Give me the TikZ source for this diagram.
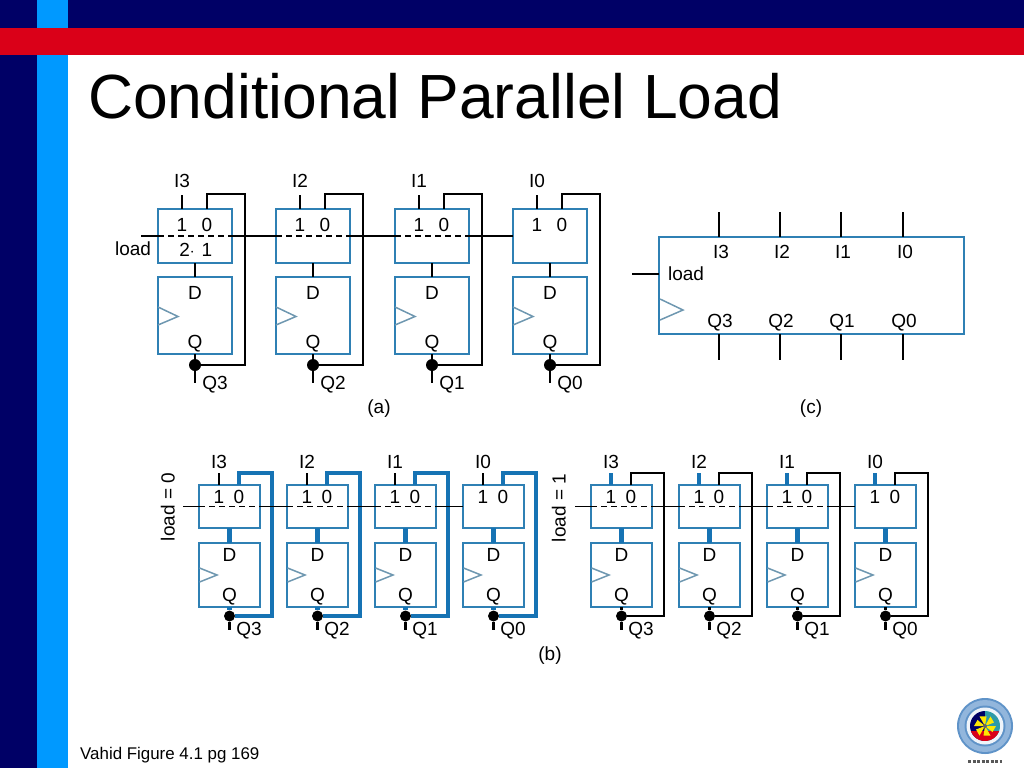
\documentclass[tikz,border=0pt]{standalone}
\usepackage{fontspec}
\setmainfont{Liberation Sans}
\definecolor{slidenavy}{HTML}{000066}
\definecolor{slidesky}{HTML}{0099FF}
\definecolor{slidered}{HTML}{DA0018}
\definecolor{boxblue}{HTML}{2F80B4}
\definecolor{wireblue}{HTML}{1673B4}
\definecolor{clockgrey}{HTML}{6E97B0}
\definecolor{ringblue}{HTML}{5F93C8}
\definecolor{ringpale}{HTML}{92B6DC}
\definecolor{sealteal}{HTML}{2E9AA8}
\tikzset{
  box/.style={draw=boxblue,line width=2.2pt,inner sep=0,outer sep=0},
  lab/.style={inner sep=0,text height=13,text depth=0,font=\fontsize{19}{20}\selectfont},
  wire/.style={line width=2.4pt,black},
  bluewire/.style={line width=4.4pt,wireblue},
  loadwire/.style={line width=1.7pt,black},
  loaddash/.style={loadwire,dash pattern=on 6pt off 4pt},
  clock/.style={line width=1.5pt,clockgrey},
  dot/.style={circle,fill=black,inner sep=0}
}
\begin{document}
\begin{tikzpicture}[x=1pt,y=-1pt]
  \useasboundingbox (0,0) rectangle (1024,768);
  % slide background
  \fill[slidenavy] (0,0) rectangle (1024,28);
  \fill[slidenavy] (0,28) rectangle (37,768);
  \fill[slidesky] (37,0) rectangle (68,768);
  \fill[slidered] (0,28) rectangle (1024,55);
  \node[inner sep=0,anchor=base west,font=\fontsize{62.4}{66}\selectfont] (title) at (88,118.5) {Conditional Parallel Load};
  \node[inner sep=0,anchor=base west,font=\fontsize{16.9}{19}\selectfont] (source) at (80,759) {Vahid Figure 4.1 pg 169};
  % part (a)
  \foreach \x/\n in {195/3,313/2,432/1,550/0} {
    \node[box,minimum width=74,minimum height=54] (muxa\n) at (\x,236) {};
    \node[box,minimum width=74,minimum height=77] (ffa\n) at (\x,315.5) {};
    \node[lab] (ina\n) at (\x-13,181) {I\n};
    \node[lab] (onea\n) at (\x-13,225) {1};
    \node[lab] (zeroa\n) at (\x+12,225) {0};
    \node[lab] (da\n) at (\x,293) {D};
    \node[lab] (qa\n) at (\x,342) {Q};
    \node[lab] (outa\n) at (\x+20,383) {Q\n};
    \node[dot,minimum size=12] (dota\n) at (\x,365) {};
    \coordinate (topa\n) at (\x-13,195);
    \coordinate (sela\n) at (\x-13,209);
    \coordinate (fba\n) at (\x+50,194);
    \coordinate (backa\n) at (\x+12,209);
    \coordinate (enda\n) at (\x,383);
    \draw[wire] (topa\n) -- (sela\n);
    \draw[wire] (dota\n) -| (fba\n) -| (backa\n);
    \draw[wire] (muxa\n.south) -- (ffa\n.north);
    \draw[wire] (ffa\n.south) -- (dota\n) -- (enda\n);
    \draw[clock] (\x-37,307) -- (\x-17,316.5) -- (\x-37,325);
  }
  \coordinate (loada) at (141,236);
  \draw[loadwire] (loada) -- (muxa3.west) (muxa3.east) -- (muxa2.west) (muxa2.east) -- (muxa1.west) (muxa1.east) -- (muxa0.west);
  \foreach \n in {3,2,1} \draw[loaddash] (muxa\n.west) -- (muxa\n.east);
  \node[lab] (twoa) at (187,250) {2$\cdot$};
  \node[lab] (onelow) at (207,250) {1};
  \node[lab] (loadlaba) at (133,249) {load};
  \node[lab] (capa) at (379,407) {(a)};
  % part (b), load = 0 on the left and load = 1 on the right
  \foreach \s/\off/\start/\fbwire/\inwire/\stemwire in {l/0/183/bluewire/wire/bluewire,r/392/575/wire/bluewire/wire} {
    \foreach \n/\d in {3/0,2/88,1/176,0/264} {
      \node[box,minimum width=61,minimum height=43] (mux\s\n) at (229.5+\off+\d,506.5) {};
      \node[box,minimum width=61,minimum height=64] (ff\s\n) at (229.5+\off+\d,575) {};
      \node[lab] (in\s\n) at (219+\off+\d,462) {I\n};
      \node[lab] (one\s\n) at (219+\off+\d,497) {1};
      \node[lab] (zero\s\n) at (239+\off+\d,497) {0};
      \node[lab] (d\s\n) at (229.5+\off+\d,555) {D};
      \node[lab] (q\s\n) at (229.5+\off+\d,595) {Q};
      \node[lab] (out\s\n) at (249+\off+\d,629) {Q\n};
      \node[dot,minimum size=11] (dot\s\n) at (229.5+\off+\d,616) {};
      \coordinate (top\s\n) at (219+\off+\d,473);
      \coordinate (sel\s\n) at (219+\off+\d,485);
      \coordinate (fb\s\n) at (272+\off+\d,473);
      \coordinate (back\s\n) at (239+\off+\d,485);
      \coordinate (end\s\n) at (229.5+\off+\d,630);
      \draw[\inwire] (top\s\n) -- (sel\s\n);
      \draw[\fbwire] (dot\s\n) -| (fb\s\n) -| (back\s\n);
      \draw[bluewire] (mux\s\n.south) -- (ff\s\n.north);
      \draw[\stemwire] (ff\s\n.south) -- (dot\s\n);
      \draw[wire] (dot\s\n) -- (end\s\n);
      \draw[clock] (199.5+\off+\d,568) -- (217+\off+\d,575) -- (199.5+\off+\d,582);
    }
    \coordinate (load\s) at (\start,506.5);
    \draw[loadwire] (load\s) -- (mux\s3.west) (mux\s3.east) -- (mux\s2.west) (mux\s2.east) -- (mux\s1.west) (mux\s1.east) -- (mux\s0.west);
    \foreach \n in {3,2,1} \draw[loaddash] (mux\s\n.west) -- (mux\s\n.east);
  }
  \node[lab,rotate=90] (loadzero) at (168,507) {load = 0};
  \node[lab,rotate=90] (loadone) at (559,508) {load = 1};
  \node[lab] (capb) at (550,654) {(b)};
  % part (c)
  \node[box,minimum width=305,minimum height=97] (reg) at (811.5,285.5) {};
  \foreach \x/\n in {719/3,780/2,841/1,903/0} {
    \coordinate (regin\n) at (\x,212);
    \coordinate (regtop\n) at (\x,237);
    \coordinate (regbot\n) at (\x,334);
    \coordinate (regout\n) at (\x,360);
    \node[lab] (labi\n) at (\x+2,252) {I\n};
    \node[lab] (labq\n) at (\x+1,321) {Q\n};
    \draw[wire] (regin\n) -- (regtop\n);
    \draw[wire] (regbot\n) -- (regout\n);
  }
  \coordinate (loadc) at (632,274);
  \draw[wire] (loadc) -- (loadc -| reg.west);
  \node[lab] (loadlabc) at (686,274) {load};
  \draw[clock] (660,299) -- (683,310) -- (660,320);
  \node[lab] (capc) at (811,407) {(c)};
  % emblem
  \fill[ringblue] (985,726) circle (28);
  \fill[ringpale] (985,726) circle (26);
  \fill[ringblue] (985,726) circle (20.5);
  \fill[white!85!ringpale] (985,726) circle (18.5);
  \begin{scope}
    \clip (985,726) circle (15);
    \fill[slidenavy] (970,711) rectangle (985,741);
    \fill[sealteal] (985,711) rectangle (1000,741);
    \fill[slidered] (970,731) rectangle (1000,741);
  \end{scope}
  \foreach \a in {0,60,...,300} \fill[yellow!90!orange] (985,726) ++(\a:11) -- ++(\a+120:7) -- (985,726) -- cycle;
  \fill[black!60] (985,726) circle (2);
  \draw[line width=3pt,black!65,dash pattern=on 3pt off 1.5pt] (968,761) -- (1002,761);
\end{tikzpicture}
\end{document}
